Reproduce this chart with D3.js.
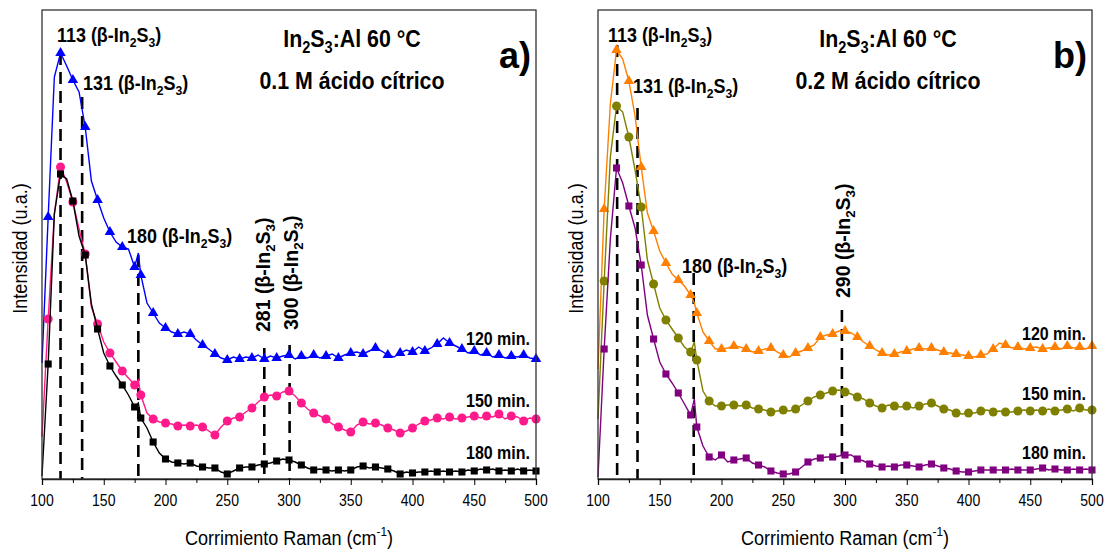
<!DOCTYPE html>
<meta charset="utf-8">
<html>
<script src="https://d3js.org/d3.v7.min.js"></script>
<style>
  body { margin: 0; background: #fff; }
  text { font-family: 'Liberation Sans', Arial, sans-serif; fill: #000; }
</style>
<div id="chart"></div>
<script>

// Raman shift (cm-1), shared by every spectrum
var ramanShift = [100,105,110,115,120,125,130,135,140,145,150,155,160,165,170,175,178,
  180,185,190,195,200,205,210,215,220,225,230,235,240,245,250,255,260,265,270,275,
  280,285,290,295,300,305,310,315,320,325,330,335,340,345,350,355,360,365,370,375,
  380,385,390,395,400,405,410,415,420,425,430,435,440,445,450,455,460,465,470,475,
  480,485,490,495,500];

// a) 0.1 M citric acid
var a120 = [116,262,402,426,413,399,387,352,298,279,261,247,237,232,230,212,226,
  204,176,166,156,151,147,145,147,145,139,134,130,125,121,119,122,120,122,121,124,
  120,123,121,123,124,120,123,121,124,121,123,125,121,124,126,127,125,128,131,128,
  124,122,126,129,127,132,128,131,135,141,136,133,130,126,128,124,126,122,124,121,
  123,122,124,121,120];
var a150 = [42,160,265,312,297,277,250,225,172,155,137,126,117,108,101,94,99,
  84,66,60,57,56,55,53,54,53,54,52,48,44,52,58,61,62,67,71,77,
  82,84,83,87,88,83,76,70,66,63,60,55,52,49,47,54,57,55,56,54,
  51,49,46,48,51,55,58,59,61,60,62,60,61,62,63,61,63,62,65,60,
  63,62,58,61,60];
var a180 = [3,115,265,305,300,278,243,224,175,150,126,113,103,94,84,72,76,
  61,51,37,26,20,17,16,15,16,13,12,11,11,7,5,8,11,12,12,14,
  15,16,18,20,19,17,14,11,9,10,9,8,9,8,9,12,13,11,12,11,
  10,8,5,7,6,7,7,8,7,8,7,8,7,9,8,10,9,10,8,9,
  8,10,8,9,8];

// b) 0.2 M citric acid
var b120 = [110,270,375,429,420,398,363,312,266,248,228,216,205,199,193,184,176,
  166,147,138,130,130,131,133,132,130,127,128,130,131,127,124,122,126,128,131,134,
  142,144,145,148,148,146,142,137,133,129,126,124,125,127,128,130,131,130,131,129,
  127,126,125,124,123,122,124,125,130,136,134,131,132,130,131,132,130,131,132,130,
  133,131,132,130,133];
var b150 = [60,198,322,373,367,342,309,272,219,195,171,159,150,141,132,127,137,
  119,88,78,73,73,74,74,73,74,71,70,69,67,68,69,68,70,74,78,82,
  84,86,88,89,87,85,82,80,76,73,71,74,73,72,73,71,73,75,76,73,
  70,69,66,65,66,66,68,69,67,68,67,67,68,69,68,69,68,70,68,69,
  70,68,71,69,69];
var b180 = [2,130,240,311,296,273,251,214,164,140,117,105,96,86,75,64,80,
  52,33,22,19,24,17,19,20,21,16,14,12,8,6,5,5,7,12,17,20,
  21,22,22,23,24,24,20,18,15,13,12,13,12,14,14,13,12,14,15,13,
  11,10,8,7,7,8,9,9,9,9,9,10,9,9,9,10,11,9,10,9,
  9,10,9,10,9];

var seriesNames = ["120 min.", "150 min.", "180 min."];
var xTicks = [100,150,200,250,300,350,400,450,500];
var xMinorTicks = [125,175,225,275,325,375,425,475];

// peak positions (where the dashed lines sit) and their labels
var peaksA = [115, 132.5, 178, 280, 300.5];
var peakLabelsA = ["113", "131", "180", "281", "300"];
var peaksB = [115.5, 132, 177.5, 297.5];
var peakLabelsB = ["113", "131", "180", "290"];

var width = 1110, height = 554;
var plotTop = 10, plotBottom = 479;

var svg = d3.select("#chart").append("svg")
    .attr("width", width)
    .attr("height", height);

// text squeezed sideways, the figure uses a condensed face
function narrowText(g, x, y, size, sx, rot) {
  return g.append("text")
    .attr("transform", "translate(" + x + "," + y + ")" + (rot ? " rotate(-90)" : "") + " scale(" + sx + ",1)")
    .attr("font-size", size + "px");
}

// writes "NNN (β-In2S3)" with subscripts
function phaseText(sel, num) {
  sel.append("tspan").text(num + " (\u03b2-In");
  sel.append("tspan").attr("font-size", "0.68em").attr("dy", 5).text("2");
  sel.append("tspan").attr("dy", -5).text("S");
  sel.append("tspan").attr("font-size", "0.68em").attr("dy", 5).text("3");
  sel.append("tspan").attr("dy", -5).text(")");
}

function drawPanel(p) {
  var x = d3.scaleLinear().domain([100, 500]).range([p.left, p.right]);
  var y = d3.scaleLinear().domain([0, 469]).range([plotBottom, plotTop]);
  var g = svg.append("g");

  // dashed peak lines
  g.selectAll("line.peak")
    .data(p.peaks)
    .enter().append("line")
      .attr("class", "peak")
      .attr("x1", function(d) { return x(d); })
      .attr("x2", function(d) { return x(d); })
      .attr("y1", function(d, i) { return y(p.peakTops[i]); })
      .attr("y2", y(0))
      .attr("stroke", "#000")
      .attr("stroke-width", 2.6)
      .attr("stroke-dasharray", "12,7");

  // spectra
  var line = d3.line()
    .x(function(d, i) { return x(ramanShift[i]); })
    .y(function(d) { return y(d); });

  p.series.forEach(function(s) {
    g.append("path")
      .attr("d", line(s.values))
      .attr("fill", "none")
      .attr("stroke", s.color)
      .attr("stroke-width", 1.4);

    var marks = s.values.map(function(v, i) { return [ramanShift[i], v]; })
      .filter(function(d, i) { return i % 2 === 1; });
    g.selectAll(null)
      .data(marks)
      .enter().append("path")
        .attr("transform", function(d) { return "translate(" + x(d[0]) + "," + y(d[1]) + ")"; })
        .attr("d", d3.symbol().type(s.symbol).size(s.size))
        .attr("fill", s.color);
  });

  // frame
  g.append("rect")
    .attr("x", p.left).attr("y", plotTop)
    .attr("width", p.right - p.left).attr("height", plotBottom - plotTop)
    .attr("fill", "none")
    .attr("stroke", "#333")
    .attr("stroke-width", 1.3);

  // x axis
  var ax = g.append("g")
    .attr("transform", "translate(0," + plotBottom + ")")
    .call(d3.axisBottom(x).tickValues(xTicks).tickSize(6).tickFormat(""));
  ax.select(".domain").attr("stroke", "#222").attr("stroke-width", 1.3);
  g.append("g")
    .attr("transform", "translate(0," + plotBottom + ")")
    .call(d3.axisBottom(x).tickValues(xMinorTicks).tickSize(4).tickFormat(""))
    .select(".domain").remove();
  xTicks.forEach(function(t) {
    narrowText(g, x(t), 506, 16.5, 0.85).attr("text-anchor", "middle").text(t);
  });

  // axis titles
  var xt = narrowText(g, (p.left + p.right) / 2, 545, 21, 0.86).attr("text-anchor", "middle");
  xt.append("tspan").text("Corrimiento Raman (cm");
  xt.append("tspan").attr("font-size", "0.65em").attr("dy", -9).text("-1");
  xt.append("tspan").attr("dy", 9).text(")");

  narrowText(g, p.left - 15, (plotTop + plotBottom) / 2 + 4, 21, 0.86, true)
    .attr("text-anchor", "middle")
    .text("Intensidad (u.a.)");

  // peak labels
  p.labels.forEach(function(l) {
    var t = narrowText(g, l.x, l.y, 19.5, l.rot ? 1 : 0.92, l.rot).attr("font-weight", "bold");
    phaseText(t, l.num);
  });

  // sample title
  var t1 = narrowText(g, p.titleX, 47, 24, 0.89).attr("text-anchor", "middle").attr("font-weight", "bold");
  t1.append("tspan").text("In");
  t1.append("tspan").attr("font-size", "0.68em").attr("dy", 6).text("2");
  t1.append("tspan").attr("dy", -6).text("S");
  t1.append("tspan").attr("font-size", "0.68em").attr("dy", 6).text("3");
  t1.append("tspan").attr("dy", -6).text(":Al 60 \u00b0C");

  narrowText(g, p.titleX, 89, 24, 0.89)
    .attr("text-anchor", "middle").attr("font-weight", "bold")
    .text(p.subtitle);

  g.append("text")
    .attr("x", p.right - 5).attr("y", 68)
    .attr("text-anchor", "end")
    .attr("font-size", "36px").attr("font-weight", "bold")
    .text(p.tag);

  // time labels
  p.series.forEach(function(s, i) {
    narrowText(g, p.right - 6, p.timeY[i], 18.5, 0.865)
      .attr("text-anchor", "end").attr("font-weight", "bold")
      .text(seriesNames[i]);
  });
}

drawPanel({
  left: 42, right: 536, titleX: 352, subtitle: "0.1 M \u00e1cido c\u00edtrico", tag: "a)",
  peaks: peaksA, peakTops: [426, 382, 224, 131, 134],
  series: [
    {values: a120, color: "#0000ff", symbol: d3.symbolTriangle, size: 48},
    {values: a150, color: "#ff1a8c", symbol: d3.symbolCircle, size: 64},
    {values: a180, color: "#000000", symbol: d3.symbolSquare, size: 50}
  ],
  timeY: [345, 407, 459],
  labels: [
    {num: peakLabelsA[0], x: 57, y: 42},
    {num: peakLabelsA[1], x: 83, y: 90},
    {num: peakLabelsA[2], x: 127, y: 243},
    {num: peakLabelsA[3], x: 270, y: 332, rot: true},
    {num: peakLabelsA[4], x: 298, y: 330, rot: true}
  ]
});

drawPanel({
  left: 598, right: 1092, titleX: 888, subtitle: "0.2 M \u00e1cido c\u00edtrico", tag: "b)",
  peaks: peaksB, peakTops: [434, 371, 206, 169],
  series: [
    {values: b120, color: "#ff8000", symbol: d3.symbolTriangle, size: 48},
    {values: b150, color: "#808000", symbol: d3.symbolCircle, size: 64},
    {values: b180, color: "#800080", symbol: d3.symbolSquare, size: 50}
  ],
  timeY: [340, 400, 459],
  labels: [
    {num: peakLabelsB[0], x: 608, y: 42},
    {num: peakLabelsB[1], x: 633, y: 93},
    {num: peakLabelsB[2], x: 682, y: 273},
    {num: peakLabelsB[3], x: 850, y: 298, rot: true}
  ]
});

</script>
</html>
